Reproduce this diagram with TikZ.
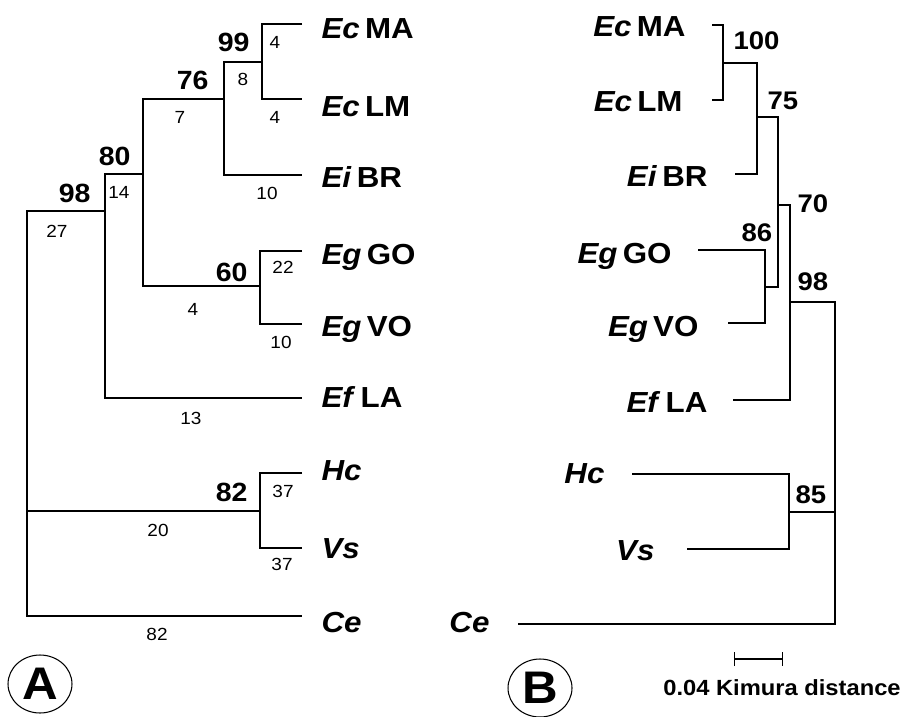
\documentclass[tikz,border=0pt]{standalone}
\usepackage{fontspec}
\setmainfont{Liberation Sans}[FakeStretch=1.08]
\usetikzlibrary{arrows.meta, shapes.geometric}

\newcommand{\taxon}[2]{\textit{#1}\hspace{0.18em}#2}

\begin{document}
\begin{tikzpicture}[
  x=0.02cm, y=-0.02cm, line width=0.6pt,
  leafA/.style = {anchor=base west, inner sep=0pt,
                  font=\fontsize{16.5}{18}\selectfont\bfseries},
  leafB/.style = {anchor=base east, inner sep=0pt,
                  font=\fontsize{16.5}{18}\selectfont\bfseries},
  bootA/.style = {anchor=base east, inner sep=0pt,
                  font=\fontsize{15}{16}\selectfont\bfseries},
  bootB/.style = {anchor=base west, inner sep=0pt,
                  font=\fontsize{14.5}{16}\selectfont\bfseries},
  blen/.style  = {inner sep=0pt, font=\fontsize{10}{11}\selectfont},
  panel/.style = {draw, ellipse, minimum width=1.28cm, minimum height=1.16cm,
                  inner sep=0pt, font=\fontsize{26}{28}\selectfont\bfseries},
]
\useasboundingbox (0,0) rectangle (905,716);

%% ---------------- tree A ----------------
%% leaf ends
\foreach \n/\y in {MA/24, LM/99, BR/175, GO/251, VO/324, LA/398, Hc/473, Vs/548, Ce/616}
  \coordinate (l\n) at (302,\y);
%% branch points
\coordinate (a99) at (262,62);
\coordinate (a76) at (224,99);
\coordinate (a60) at (260,286);
\coordinate (a80) at (143,174);
\coordinate (a98) at (105,211);
\coordinate (a82) at (260,511);
\coordinate (rA)  at (27,400);

\draw (lMA) -| (a99) |- (lLM);
\draw (a99) -| (a76) |- (lBR);
\draw (lGO) -| (a60) |- (lVO);
\draw (a76) -| (a80) |- (a60);
\draw (a80) -| (a98) |- (lLA);
\draw (lHc) -| (a82) |- (lVs);
\draw (a98) -| (rA) |- (lCe);
\draw (a82) -- (rA |- a82);

%% taxa
\node[leafA] (tMA) at (321,39)  {\taxon{Ec}{MA}};
\node[leafA] (tLM) at (321,117) {\taxon{Ec}{LM}};
\node[leafA] (tBR) at (321,188) {\taxon{Ei}{BR}};
\node[leafA] (tGO) at (321,264) {\taxon{Eg}{GO}};
\node[leafA] (tVO) at (321,336) {\taxon{Eg}{VO}};
\node[leafA] (tLA) at (321,407) {\taxon{Ef}{LA}};
\node[leafA] (tHc) at (321,480) {\textit{Hc}};
\node[leafA] (tVs) at (321,558) {\textit{Vs}};
\node[leafA] (tCe) at (321,632) {\textit{Ce}};

%% bootstrap values
\node[bootA] (s99) at (250,52)  {99};
\node[bootA] (s76) at (209,90)  {76};
\node[bootA] (s80) at (131,166) {80};
\node[bootA] (s98) at (91,202)  {98};
\node[bootA] (s60) at (248,281) {60};
\node[bootA] (s82) at (248,501) {82};

%% branch lengths
\node[blen] (bMA)  at (275,42)  {4};
\node[blen] (b99)  at (243,79)  {8};
\node[blen] (bLM)  at (275,117) {4};
\node[blen] (b76)  at (180,117) {7};
\node[blen] (bBR)  at (267,193) {10};
\node[blen] (b80)  at (119,192) {14};
\node[blen] (b98)  at (57,231)  {27};
\node[blen] (bGO)  at (283,267) {22};
\node[blen] (b60)  at (193,309) {4};
\node[blen] (bVO)  at (281,342) {10};
\node[blen] (bLA)  at (191,418) {13};
\node[blen] (bHc)  at (283,491) {37};
\node[blen] (b82)  at (158,530) {20};
\node[blen] (bVs)  at (282,564) {37};
\node[blen] (bCe)  at (157,634) {82};

\node[panel] (pA) at (40,684) {A};

%% ---------------- tree B ----------------
\coordinate (mMA) at (712,25);
\coordinate (mLM) at (712,100);
\coordinate (mBR) at (735,174);
\coordinate (mGO) at (698,250);
\coordinate (mVO) at (728,323);
\coordinate (mLA) at (733,400);
\coordinate (mHc) at (632,474);
\coordinate (mVs) at (687,549);
\coordinate (mCe) at (518,624);

\coordinate (b100) at (723,63);
\coordinate (b75)  at (757,117);
\coordinate (b86)  at (765,287);
\coordinate (b70)  at (778,205);
\coordinate (bb98) at (790,302);
\coordinate (b85)  at (789,512);
\coordinate (rB)   at (835,512);

\draw (mMA) -| (b100) |- (mLM);
\draw (b100) -| (b75) |- (mBR);
\draw (mGO) -| (b86) |- (mVO);
\draw (b75) -| (b70) |- (b86);
\draw (b70) -| (bb98) |- (mLA);
\draw (mHc) -| (b85) |- (mVs);
\draw (bb98) -| (rB) |- (mCe);
\draw (b85) -- (rB);

%% taxa
\node[leafB] (uMA) at (686,37)  {\taxon{Ec}{MA}};
\node[leafB] (uLM) at (683,112) {\taxon{Ec}{LM}};
\node[leafB] (uBR) at (708,187) {\taxon{Ei}{BR}};
\node[leafB] (uGO) at (672,263) {\taxon{Eg}{GO}};
\node[leafB] (uVO) at (699,336) {\taxon{Eg}{VO}};
\node[leafB] (uLA) at (708,412) {\taxon{Ef}{LA}};
\node[leafB] (uHc) at (605,483) {\textit{Hc}};
\node[leafB] (uVs) at (655,560) {\textit{Vs}};
\node[leafB] (uCe) at (490,632) {\textit{Ce}};

%% bootstrap values
\node[bootB] (v100) at (733,50)  {100};
\node[bootB] (v75)  at (767,110) {75};
\node[bootB] (v86)  at (741,241) {86};
\node[bootB] (v70)  at (797,213) {70};
\node[bootB] (v98)  at (797,290) {98};
\node[bootB] (v85)  at (795,503) {85};

%% scale bar
\coordinate (sbL) at (734,659);
\coordinate (sbR) at (783,659);
\draw[{Bar[width=0.28cm]}-{Bar[width=0.28cm]}] (sbL) -- (sbR);
\node[anchor=base, inner sep=0pt, font=\fontsize{12.5}{14}\selectfont\bfseries]
  (sbT) at (782,695) {0.04 Kimura distance};

\node[panel] (pB) at (540,688) {B};

\end{tikzpicture}
\end{document}
